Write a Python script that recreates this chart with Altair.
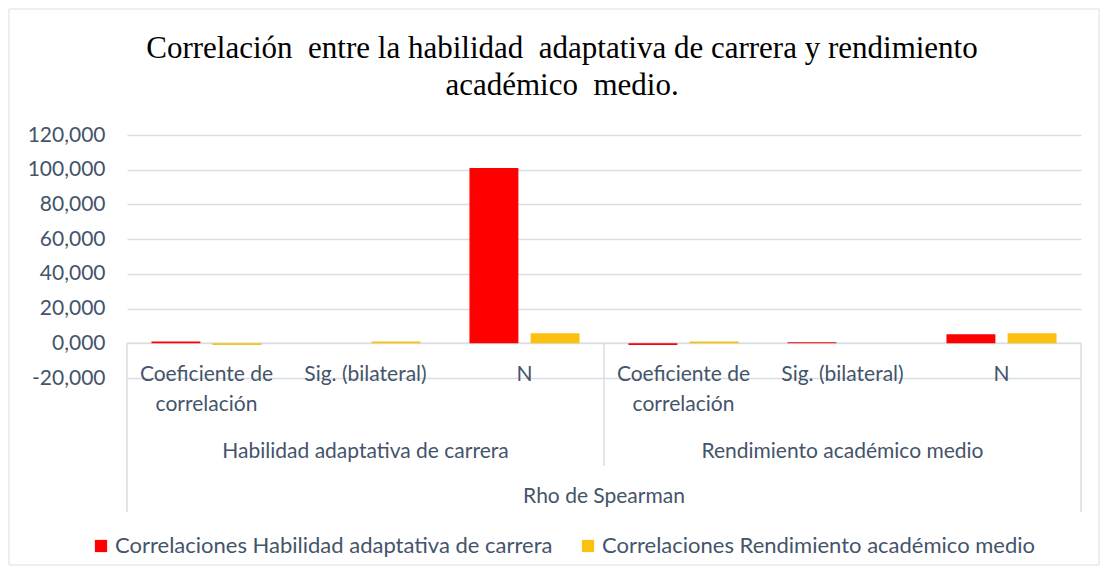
import altair as alt
import pandas as pd

# ---- data ----
groups = ["Habilidad adaptativa de carrera", "Rendimiento académico medio"]
stats = ["Coeficiente de\ncorrelación", "Sig. (bilateral)", "N"]
series = ["Correlaciones Habilidad adaptativa de carrera",
          "Correlaciones Rendimiento académico medio"]
habilidad_vals = [1.0, 0.0, 101.0, -1.0, 0.6, 5.2]
rendimiento_vals = [-1.0, 1.1, 5.8, 1.1, 0.0, 5.8]
y_ticks = [-20, 0, 20, 40, 60, 80, 100, 120]
outer_label = "Rho de Spearman"
title_text = ("Correlación\u00a0 entre la habilidad\u00a0 adaptativa de carrera y rendimiento"
              "\nacadémico\u00a0 medio.")

keys = [f"{gi}-{si}" for gi in range(len(groups)) for si in range(len(stats))]
rows = []
for i, k in enumerate(keys):
    rows.append({"key": k, "series": series[0], "value": habilidad_vals[i]})
    rows.append({"key": k, "series": series[1], "value": rendimiento_vals[i]})
df = pd.DataFrame(rows)

lab_df = pd.DataFrame({"key": keys, "stat": stats * len(groups)})
grp_df = pd.DataFrame({"key": [f"{gi}-1" for gi in range(len(groups))], "grp": groups})

W, H = 954, 243
TXT = "#44546A"
GRID = "#D9DEE4"
FONT = "Lato"
FS = 21

x_scale = alt.Scale(domain=keys, paddingInner=0, paddingOuter=0)
y_scale = alt.Scale(domain=[-20, 120], nice=False, zero=False)
y_axis = alt.Axis(values=y_ticks, grid=True, gridColor=GRID, gridWidth=1.3,
                  domain=False, ticks=False, tickSize=0, labelPadding=22,
                  labelOverlap=False, labelBound=False, labelFlush=False,
                  labelFont=FONT, labelFontSize=FS, labelColor=TXT, title=None,
                  labelExpr="replace(replace(format(datum.value, '.3f'), '.', ','), '\u2212', '-')")

base_x = alt.X("key:N", scale=x_scale, axis=None, sort=keys, title=None)

bars = alt.Chart(df).mark_bar().encode(
    x=base_x,
    xOffset=alt.XOffset("series:N", sort=series,
                        scale=alt.Scale(domain=series, paddingInner=0.2, paddingOuter=0.4)),
    y=alt.Y("value:Q", scale=y_scale, title=None, axis=y_axis),
    color=alt.Color("series:N", sort=series,
                    scale=alt.Scale(domain=series, range=["#FF0000", "#FCC010"]),
                    legend=alt.Legend(title=None, orient="none", direction="horizontal",
                                      legendX=-37, legendY=400, symbolType="square",
                                      symbolSize=150, symbolStrokeWidth=0,
                                      labelFont=FONT, labelFontSize=FS + 1, labelColor=TXT,
                                      labelLimit=700, labelOffset=3, columnPadding=24)),
)

rule_df = pd.DataFrame({"v": [0]})
zero_line = alt.Chart(rule_df).mark_rule(color=GRID, strokeWidth=1.5).encode(
    y=alt.Y("v:Q", scale=y_scale, title=None, axis=y_axis), x=alt.value(0), x2=alt.value(W))


def divider(key, band_pos, bottom):
    d = pd.DataFrame({"key": [key], "v": [0]})
    return alt.Chart(d).mark_rule(color=GRID, strokeWidth=1.5).encode(
        x=alt.X("key:N", scale=x_scale, sort=keys, bandPosition=band_pos, axis=None),
        y=alt.Y("v:Q", scale=y_scale, title=None, axis=y_axis), y2=alt.value(bottom))


left_rule = divider(keys[0], 0, 377)
mid_rule = divider(keys[3], 0, 331)
right_rule = divider(keys[-1], 1, 377)

stat_text = alt.Chart(lab_df).mark_text(
    lineBreak="\n", baseline="alphabetic", align="center", fontSize=FS, font=FONT,
    color=TXT, lineHeight=30).encode(
    x=base_x, y=alt.value(246), text="stat:N")

grp_text = alt.Chart(grp_df).mark_text(
    baseline="middle", align="center", fontSize=FS, font=FONT, color=TXT).encode(
    x=base_x, y=alt.value(317), text="grp:N")

outer_text = alt.Chart(pd.DataFrame({"t": [outer_label]})).mark_text(
    baseline="middle", align="center", fontSize=FS, font=FONT, color=TXT).encode(
    x=alt.value(W / 2), y=alt.value(362), text="t:N")

title_mark = alt.Chart(pd.DataFrame({"t": [title_text]})).mark_text(
    lineBreak="\n", baseline="alphabetic", align="center", fontSize=31,
    font="Liberation Serif", color="black", lineHeight=37).encode(
    x=alt.value(435), y=alt.value(-77), text="t:N")

border = alt.Chart(pd.DataFrame({"t": [1]})).mark_rect(
    fill="white", fillOpacity=0, stroke=GRID, strokeWidth=1).encode(
    x=alt.value(-118), x2=alt.value(972), y=alt.value(-126), y2=alt.value(430))

chart = alt.layer(
    border, zero_line, left_rule, mid_rule, right_rule, bars,
    stat_text, grp_text, outer_text, title_mark
).properties(
    width=W, height=H,
    padding={"left": 119, "top": 127, "right": 19, "bottom": 190},
    autosize=alt.AutoSizeParams(type="none"),
).configure_view(strokeWidth=0)

chart.save("out.html", embed_options={"renderer": "svg", "actions": False})
